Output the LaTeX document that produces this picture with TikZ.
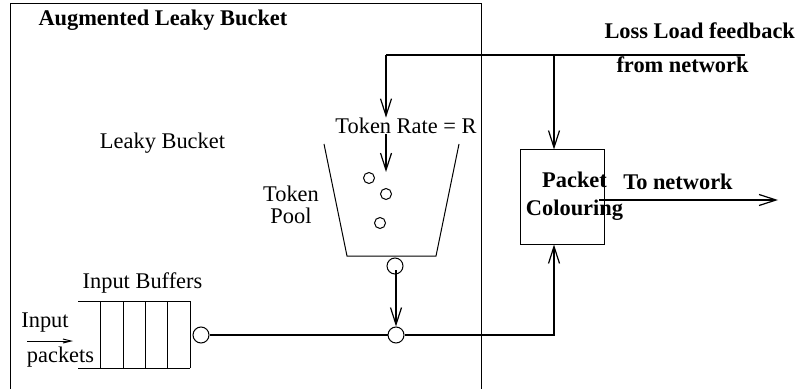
\documentclass[tikz,border=0pt]{standalone}
\usepackage{fontspec}
\setmainfont{Liberation Serif}
\usepackage{tikz}
\usetikzlibrary{arrows.meta,positioning}

\begin{document}
\begin{tikzpicture}[x=0.5pt,y=-0.5pt,
    txt/.style={inner sep=0pt,font=\fontsize{11.2}{11}\selectfont},
    bld/.style={txt,font=\fontsize{11.2}{11}\selectfont\bfseries},
    port/.style={draw,circle,inner sep=0pt,minimum size=8pt},
    tok/.style={draw,circle,inner sep=0pt,minimum size=5.5pt},
    conn/.style={line width=0.6pt,-{Straight Barb[length=8.5pt,width=5.5pt]}},
    line width=0.5pt]
    \useasboundingbox (0,0) rectangle (795,389);

    % augmented leaky bucket frame
    \draw (10,389) -- (10,4) -- (481,4) -- (481,389);
    \node[bld,anchor=west] (title) at (38,20) {Augmented Leaky Bucket};
    \node[txt] (lb) at (162.5,143) {Leaky Bucket};

    % token bucket
    \draw (324,144) -- (347,256) -- (436,256) -- (459,144);
    \node[txt] (rate) at (406,126) {Token Rate = R};
    \node[txt,align=center] (pool) at (291,205) {Token\\Pool};
    \node[tok] (t1) at (369,178) {};
    \node[tok] (t2) at (386,194) {};
    \node[tok] (t3) at (380,223) {};
    \node[port] (outlet) at (395,266) {};
    \coordinate (drip) at (386,172);

    % input buffers
    \draw (78,301) -- (190,301) (78,368) -- (190,368);
    \foreach \x in {100,123,145,167,190}
      \draw (\x,301) -- (\x,368);
    \node[txt] (ib) at (142.5,283) {Input Buffers};
    \node[txt] (inp) at (45,323) {Input};
    \node[txt] (pk) at (60.5,357) {packets};
    \coordinate (inl) at (27,341);
    \coordinate (inr) at (73,341);
    \node[port] (bufout) at (201,335) {};
    \node[port] (join) at (396,335) {};

    % packet colouring
    \node[draw,minimum width=42pt,minimum height=47pt,inner sep=0pt] (pc) at (562,197) {};
    \node[bld,align=center,font=\fontsize{11.2}{14}\selectfont\bfseries] (pctext) at (574.5,196) {Packet\\Colouring};
    \node[bld] (tonet) at (678,182) {To network};
    \coordinate (pcout) at (599,200);
    \coordinate (net) at (778,200);

    % feedback
    \node[bld,anchor=west] (loss) at (604,31) {Loss Load feedback};
    \node[bld,anchor=west] (from) at (616,65) {from network};
    \coordinate (fbend) at (745,55);
    \coordinate (fbtap) at (554,55);
    \coordinate (fbcorner) at (386,55);

    \draw[line width=0.6pt] (fbend) -- (fbcorner);
    \draw[conn] (fbcorner) -- (fbcorner |- rate.north);
    \draw[conn] (fbcorner |- rate.south) -- (drip);
    \draw[conn] (fbtap) -- (fbtap |- pc.north);
    \draw[conn] (pcout) -- (net);
    \draw[conn] (outlet.center) ++(1,4) -- (join.north);
    \draw[line width=0.6pt] (bufout) -- (join);
    \draw[conn] (join) -| (pc.south -| fbtap);
    \draw[line width=0.5pt,-{Straight Barb[length=4pt,width=2pt]}] (inl) -- (inr);
\end{tikzpicture}
\end{document}
